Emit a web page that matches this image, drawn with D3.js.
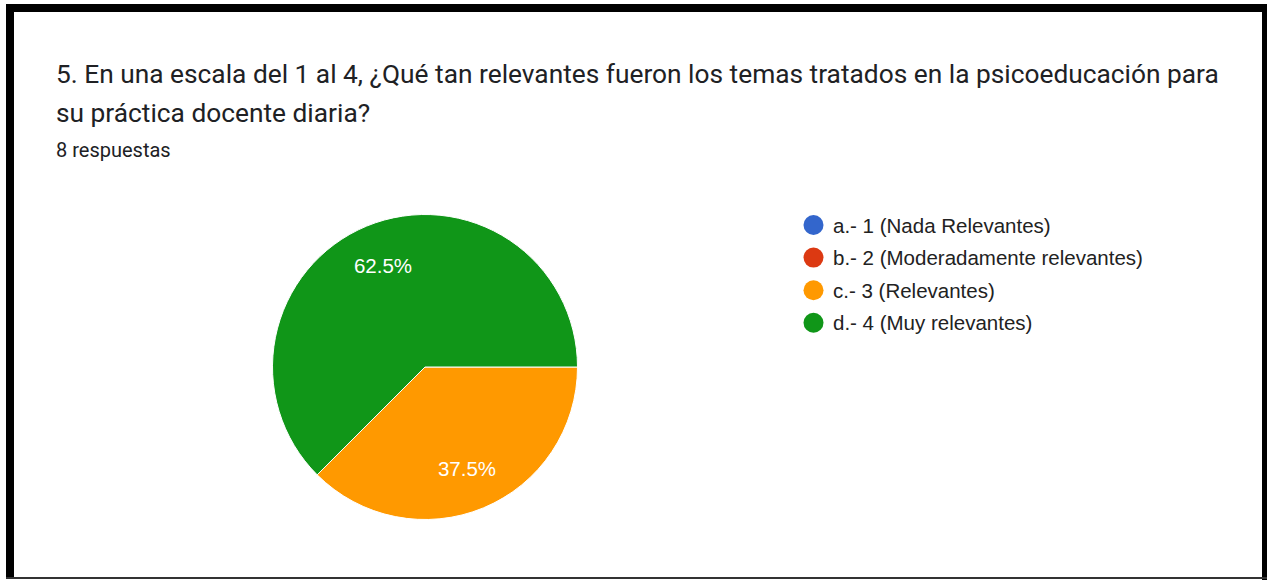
<!DOCTYPE html>
<html><head><meta charset="utf-8">
<script src="https://cdn.jsdelivr.net/npm/d3@7"></script>
<style>html,body{margin:0;padding:0;background:#fff;overflow:hidden}</style>
</head><body>
<svg id="c" width="1267" height="580"></svg>
<script>
const titleLines = ["5. En una escala del 1 al 4, ¿Qué tan relevantes fueron los temas tratados en la psicoeducación para", "su práctica docente diaria?"];
const subtitle = "8 respuestas";
const categories = ["a.- 1 (Nada Relevantes)", "b.- 2 (Moderadamente relevantes)", "c.- 3 (Relevantes)", "d.- 4 (Muy relevantes)"];
const counts = [0, 0, 3, 5];
const colors = ["#3366cc", "#dc3912", "#ff9900", "#109618"];

const svg = d3.select("#c");
// frame
svg.append("rect").attr("x",0).attr("y",0).attr("width",1267).attr("height",580).attr("fill","#fff");
svg.append("rect").attr("x",6).attr("y",4).attr("width",1261).attr("height",8).attr("fill","#000");
svg.append("rect").attr("x",6).attr("y",4).attr("width",8).attr("height",574).attr("fill","#000");
svg.append("rect").attr("x",1262).attr("y",4).attr("width",5).attr("height",576).attr("fill","#000");
svg.append("rect").attr("x",6).attr("y",577).attr("width",1261).attr("height",2).attr("fill","#333");

// title
titleLines.forEach((t,i)=>{
  svg.append("text").attr("x",56).attr("y",83 + i*39).attr("font-family","Roboto").attr("font-size",26.3)
    .attr("fill","#202124").text(t);
});
svg.append("text").attr("x",56).attr("y",157).attr("font-family","Roboto").attr("font-size",20)
  .attr("fill","#202124").text(subtitle);

// pie
const cx = 425, cy = 367, r = 152.5;
const total = d3.sum(counts);
const pie = d3.pie().sort(null).value(d=>d).startAngle(Math.PI/2).endAngle(Math.PI/2 + 2*Math.PI);
const arcs = pie(counts);
const arc = d3.arc().innerRadius(0).outerRadius(r);
const g = svg.append("g").attr("transform",`translate(${cx},${cy})`);
g.selectAll("path").data(arcs.filter(a=>a.data>0)).join("path")
  .attr("d",arc).attr("fill",(d)=>colors[d.index]).attr("stroke","#fff").attr("stroke-width",1);
const labelArc = d3.arc().innerRadius(r*0.72).outerRadius(r*0.72);
const fmt = v => (v/total*100).toFixed(1) + "%";
g.selectAll("text").data(arcs.filter(a=>a.data>0)).join("text")
  .attr("transform",d=>{const c=labelArc.centroid(d);return `translate(${c[0]},${c[1]})`;})
  .attr("text-anchor","middle").attr("dy","0.36em")
  .attr("font-family","Arial, 'Liberation Sans'").attr("font-size",20.5).attr("fill","#fff")
  .text(d=>fmt(d.data));

// legend
const lg = svg.append("g");
categories.forEach((c,i)=>{
  const y = 225 + i*32.6;
  lg.append("circle").attr("cx",813.5).attr("cy",y).attr("r",10).attr("fill",colors[i]);
  lg.append("text").attr("x",833).attr("y",y+7.5).attr("font-family","Arial, 'Liberation Sans'")
    .attr("font-size",20.5).attr("fill","#222").text(c);
});
</script>
</body></html>
